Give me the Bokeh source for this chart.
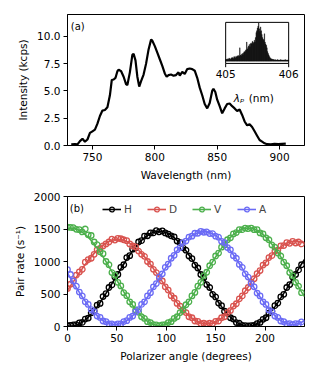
from bokeh.plotting import figure
from bokeh.layouts import column
from bokeh.models import Range1d, FixedTicker, NumeralTickFormatter
from bokeh.core.properties import value
from bokeh.embed import file_html
from bokeh.resources import INLINE

FONT = "DejaVu Sans"
FS = "10.5px"

# ---------------- panel (a): SPDC spectrum ----------------
wavelength = [733, 736, 738, 740, 742, 744, 746, 748, 750, 752, 754, 756, 758, 760, 762, 764,
              765.5, 767, 768.5, 770, 771, 773, 775, 777, 778, 780, 782, 783, 784.5, 786, 787.5,
              789, 791, 793, 795, 797, 798, 800, 802, 804, 806, 808, 809.5, 811, 813, 815, 817,
              819, 820, 822, 824, 826, 828, 830, 832, 834, 836, 838, 840, 842, 844, 846, 847,
              848.5, 850, 852, 854, 856, 858, 860, 862, 864, 866, 868, 870, 872, 874, 876, 878,
              880, 882, 884, 886, 888, 890, 893, 896, 899, 902, 905]
intensity = [0.10, 0.12, 0.10, 0.40, 0.62, 0.35, 0.55, 1.15, 1.30, 1.45, 2.00, 2.70, 3.20, 3.25,
             3.50, 4.60, 6.00, 6.05, 6.20, 6.80, 6.95, 6.80, 6.30, 5.60, 5.55, 6.70, 8.30, 8.40,
             7.80, 6.30, 5.40, 5.90, 6.50, 7.50, 8.80, 9.70, 9.60, 9.10, 8.50, 7.90, 7.30, 6.60,
             6.30, 6.45, 6.50, 6.40, 6.45, 6.70, 6.40, 6.75, 6.55, 7.00, 7.05, 7.00, 6.85, 6.20,
             5.30, 4.60, 3.80, 3.40, 3.90, 5.00, 5.20, 4.90, 4.20, 3.60, 2.95, 3.40, 3.80, 3.85,
             3.60, 3.40, 3.15, 3.30, 2.80, 2.20, 1.85, 1.95, 1.70, 1.30, 0.90, 0.50, 0.35, 0.20,
             0.12, 0.10, 0.15, 0.12, 0.15, 0.18]
x_ticks_a = [750, 800, 850, 900]
y_ticks_a = [0, 2.5, 5, 7.5, 10]

# inset: pump spectrum (normalised), 0.01 nm bins from 405.00 nm
pump_start = 405.0
pump_bin = 0.01
pump_counts = [0.04, 0.05, 0.04, 0.06, 0.05, 0.08, 0.06, 0.05, 0.07, 0.09,
               0.08, 0.10, 0.07, 0.12, 0.10, 0.09, 0.13, 0.11, 0.14, 0.12,
               0.15, 0.13, 0.35, 0.16, 0.14, 0.18, 0.20, 0.17, 0.22, 0.25,
               0.24, 0.28, 0.30, 0.50, 0.32, 0.36, 0.40, 0.44, 0.38, 0.46,
               0.48, 0.45, 0.52, 0.50, 0.47, 0.55, 0.50, 0.62, 0.75, 0.80,
               0.87, 0.92, 1.00, 0.85, 0.78, 0.90, 0.80, 0.70, 0.62, 0.58,
               0.55, 0.72, 0.50, 0.45, 0.42, 0.35, 0.25, 0.20, 0.16, 0.12,
               0.09, 0.07, 0.06, 0.05, 0.05, 0.04, 0.04, 0.03, 0.04, 0.03,
               0.03, 0.03, 0.04, 0.03, 0.03, 0.03, 0.03, 0.04, 0.03, 0.03,
               0.03, 0.03, 0.03, 0.03, 0.04, 0.03, 0.03, 0.03, 0.03, 0.03]
inset_ticks = [405, 406]

# ---------------- panel (b): polarisation fringes ----------------
angle_step = 3
H_meas = [12, 18, 25, 30, 55, 62, 115, 130, 210, 240,
          330, 355, 460, 505, 600, 640, 760, 800, 910, 950,
          1060, 1090, 1190, 1210, 1300, 1320, 1390, 1395, 1440, 1440,
          1475, 1455, 1470, 1440, 1420, 1395, 1380, 1315, 1290, 1210,
          1175, 1085, 1045, 945, 900, 800, 750, 645, 600, 495,
          455, 360, 320, 235, 205, 135, 115, 60, 50, 18,
          15, 8, 12, 18, 45, 62, 110, 135, 205, 235,
          320, 360, 455, 495, 600, 645, 760, 800, 870, 950]
D_meas = [585, 650, 700, 790, 840, 880, 990, 1030, 1050, 1110,
          1180, 1200, 1240, 1270, 1300, 1345, 1330, 1355, 1350, 1335,
          1320, 1270, 1240, 1225, 1160, 1110, 1080, 1000, 960, 880,
          830, 745, 700, 610, 560, 475, 435, 355, 315, 245,
          215, 150, 135, 85, 80, 45, 50, 35, 50, 45,
          80, 85, 135, 150, 215, 245, 315, 350, 425, 470,
          550, 600, 680, 735, 815, 860, 945, 980, 1060, 1090,
          1160, 1175, 1240, 1245, 1290, 1280, 1310, 1285, 1300, 1270]
V_meas = [1530, 1525, 1520, 1495, 1490, 1455, 1500, 1410, 1400, 1300,
          1260, 1150, 1120, 1000, 950, 830, 790, 680, 625, 520,
          475, 380, 340, 255, 220, 150, 125, 75, 60, 30,
          25, 12, 25, 30, 60, 75, 125, 150, 215, 255,
          335, 380, 470, 525, 620, 680, 780, 835, 935, 990,
          1085, 1130, 1220, 1255, 1335, 1365, 1425, 1445, 1490, 1490,
          1515, 1505, 1515, 1490, 1490, 1440, 1425, 1365, 1335, 1255,
          1220, 1130, 1085, 990, 935, 830, 780, 680, 620, 520]
A_meas = [875, 800, 700, 620, 530, 470, 380, 340, 260, 230,
          160, 140, 85, 75, 40, 40, 25, 40, 40, 75,
          90, 140, 160, 225, 260, 340, 380, 470, 520, 610,
          660, 760, 810, 910, 960, 1050, 1095, 1180, 1215, 1290,
          1315, 1375, 1390, 1435, 1435, 1465, 1450, 1455, 1430, 1430,
          1390, 1375, 1310, 1290, 1215, 1180, 1090, 1050, 955, 910,
          810, 760, 660, 610, 515, 470, 380, 340, 255, 230,
          160, 140, 85, 75, 40, 45, 30, 45, 40, 70]

H_fit = [9, 5, 9, 21, 41, 68, 103, 144, 192, 246, 306, 370, 438, 509, 583, 659, 735, 811, 887, 961,
         1032, 1100, 1164, 1223, 1278, 1326, 1367, 1402, 1429, 1449, 1461, 1465, 1461, 1449, 1429,
         1402, 1367, 1326, 1278, 1223, 1164, 1100, 1032, 961, 887, 811, 735, 659, 583, 509,
         438, 370, 306, 246, 192, 144, 103, 68, 41, 21, 9, 5, 9, 21, 41, 68, 103, 144, 192, 246,
         306, 370, 438, 509, 583, 659, 735, 811, 887, 961, 1032]
D_fit = [555, 622, 690, 758, 825, 891, 954, 1015, 1072, 1125, 1173, 1216, 1253, 1284, 1308, 1326,
         1337, 1340, 1337, 1326, 1308, 1284, 1253, 1216, 1173, 1125, 1072, 1015, 954, 891,
         825, 758, 690, 622, 555, 489, 426, 365, 308, 255, 207, 164, 127, 96, 72, 54, 44, 40, 44, 54,
         72, 96, 127, 164, 207, 255, 308, 358, 418, 479, 544, 609, 676, 742, 808, 872, 934, 994,
         1049, 1101, 1148, 1190, 1226, 1257, 1280, 1298, 1308, 1311, 1308, 1298, 1280]
V_fit = [1511, 1515, 1511, 1499, 1478, 1450, 1415, 1372, 1322, 1267, 1206, 1140, 1070, 997, 921,
         844, 765, 687, 609, 533, 460, 390, 324, 263, 208, 158, 116, 80, 52, 31, 19, 15, 19, 31, 52,
         80, 116, 158, 208, 263, 324, 390, 460, 533, 609, 687, 765, 844, 921, 997, 1070, 1140, 1206,
         1267, 1322, 1372, 1415, 1450, 1478, 1499, 1511, 1515, 1511, 1499, 1478, 1450, 1415, 1372,
         1322, 1267, 1206, 1140, 1070, 997, 921, 844, 765, 687, 609, 533, 460]
A_fit = [820, 745, 670, 596, 524, 454, 388, 325, 267, 214, 167, 126, 92, 65, 46, 34, 30, 34, 46, 65,
         92, 126, 167, 214, 267, 325, 388, 454, 524, 596, 670, 745, 820, 894, 966, 1036, 1103, 1165,
         1224, 1276, 1323, 1364, 1398, 1425, 1444, 1456, 1460, 1456, 1444, 1425, 1398, 1364, 1323,
         1276, 1224, 1165, 1103, 1036, 966, 894, 820, 745, 670, 596, 524, 454, 388, 325, 267, 214,
         167, 126, 92, 65, 46, 34, 30, 34, 46, 65, 92]

series_names = ["H", "D", "V", "A"]
series_colors = ["black", "#d9534f", "#4cb04c", "#6b6bf5"]
x_ticks_b = [0, 50, 100, 150, 200]
y_ticks_b = [0, 500, 1000, 1500, 2000]

angles_meas = [i * angle_step for i in range(len(H_meas))]
angles_fit = [i * angle_step for i in range(len(H_fit))]
pump_x = [pump_start + pump_bin * (i + 0.5) for i in range(len(pump_counts))]


def style(p, xticks, yticks):
    p.grid.visible = False
    p.outline_line_color = "black"
    p.outline_line_width = 1
    p.outline_line_alpha = 1
    p.background_fill_color = "white"
    p.border_fill_color = "white"
    for ax in (p.xaxis[0], p.yaxis[0]):
        ax.axis_line_color = "black"
        ax.major_tick_line_color = "black"
        ax.major_tick_in = 0
        ax.major_tick_out = 4
        ax.minor_tick_line_color = None
        ax.major_label_text_font = FONT
        ax.major_label_text_font_size = FS
        ax.major_label_text_color = "black"
        ax.major_label_standoff = 3
        ax.axis_label_text_font = FONT
        ax.axis_label_text_font_size = FS
        ax.axis_label_text_font_style = "normal"
        ax.axis_label_text_color = "black"
        ax.axis_label_standoff = 5
    p.xaxis[0].ticker = FixedTicker(ticks=xticks)
    p.yaxis[0].ticker = FixedTicker(ticks=yticks)


# ---------------- figure (a) ----------------
p1 = figure(width=311, height=184, x_range=Range1d(730, 920), y_range=Range1d(0, 12),
            output_backend="svg", toolbar_location=None,
            min_border_left=67, min_border_right=7, min_border_top=14, min_border_bottom=39)
style(p1, x_ticks_a, y_ticks_a)
p1.xaxis[0].axis_label = "Wavelength (nm)"
p1.yaxis[0].axis_label = "Intensity (kcps)"
p1.yaxis[0].formatter = NumeralTickFormatter(format="0.0")
p1.line(wavelength, intensity, line_width=2.2, color="black")
p1.text(x=[732.6], y=[10.9], text=["(a)"], text_align="left", text_baseline="middle",
        text_font=value(FONT), text_font_size="10px", text_color="black")

inset_y0, inset_y1 = -0.06, 1.02
ins = p1.subplot(x_source=Range1d(405, 406), y_source=Range1d(inset_y0, inset_y1),
                 x_target=Range1d(856.8, 907.3), y_target=Range1d(7.52, 11.28))
ins.vbar(x=pump_x, top=pump_counts, bottom=0, width=pump_bin, fill_color="black",
         line_color="black", line_width=0.3)
ins.quad(left=[inset_ticks[0]], right=[inset_ticks[1]], bottom=[inset_y0], top=[inset_y1],
         fill_color=None, line_color="black", line_width=1)
ins.segment(x0=inset_ticks, x1=inset_ticks, y0=[inset_y0] * 2, y1=[inset_y0 - 0.1] * 2,
            line_color="black", line_width=1)
ins.text(x=inset_ticks, y=[inset_y0] * 2, text=[str(t) for t in inset_ticks],
         text_align="center", text_baseline="top", y_offset=7,
         text_font=value(FONT), text_font_size=FS, text_color="black")
ins.text(x=[405.30], y=[inset_y0], text=["λₚ"], text_align="right", text_baseline="middle",
         y_offset=35, text_font=value(FONT), text_font_size=FS, text_font_style="italic",
         text_color="black")
ins.text(x=[405.365], y=[inset_y0], text=["(nm)"], text_align="left", text_baseline="middle",
         y_offset=35, text_font=value(FONT), text_font_size=FS, text_color="black")

# ---------------- figure (b) ----------------
p2 = figure(width=311, height=181, x_range=Range1d(0, 240), y_range=Range1d(0, 2000),
            output_backend="svg", toolbar_location=None,
            min_border_left=67, min_border_right=7, min_border_top=12, min_border_bottom=39)
style(p2, x_ticks_b, y_ticks_b)
p2.xaxis[0].axis_label = "Polarizer angle (degrees)"
p2.yaxis[0].axis_label = "Pair rate (s⁻¹)"

meas = [H_meas, D_meas, V_meas, A_meas]
fits = [H_fit, D_fit, V_fit, A_fit]
for name, col, ym, yf in zip(series_names, series_colors, meas, fits):
    p2.line(angles_fit, yf, line_width=1.6, color=col, legend_label=name)
    p2.scatter(angles_meas, ym, marker="circle", size=5.5, fill_color=None,
               line_color=col, line_width=1.3, legend_label=name)

p2.text(x=[2.3], y=[1811], text=["(b)"], text_align="left", text_baseline="middle",
        text_font=value(FONT), text_font_size="10px", text_color="black")

lg = p2.legend[0]
lg.orientation = "horizontal"
lg.location = (35, 111)
lg.padding = 0
lg.margin = 0
lg.spacing = 3
lg.border_line_color = None
lg.background_fill_alpha = 0
lg.glyph_width = 19
lg.glyph_height = 12
lg.label_standoff = 3
lg.label_text_font = FONT
lg.label_text_font_size = FS
lg.label_height = 12
lg.label_text_baseline = "middle"

layout = column(p1, p2, spacing=0)
open("out.html", "w").write(file_html(layout, INLINE))
